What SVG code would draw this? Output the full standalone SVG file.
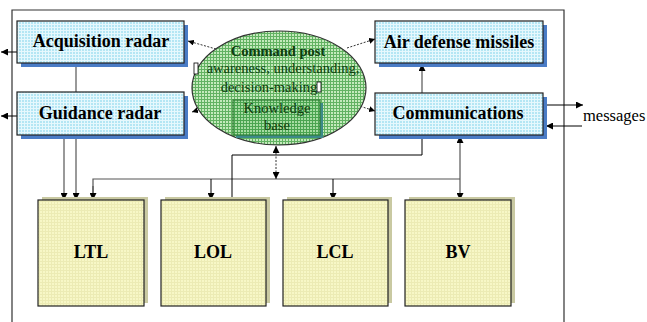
<svg xmlns="http://www.w3.org/2000/svg" width="647" height="322" viewBox="0 0 647 322">
<style>
.lbl{font-family:"Liberation Serif","Times New Roman",Times,"DejaVu Serif",serif;font-weight:bold;font-size:18px;fill:#000;text-anchor:middle}
.cp{font-family:"Liberation Serif","Times New Roman",Times,"DejaVu Serif",serif;font-size:14.5px;fill:#0f3d0f;text-anchor:middle}
.msg{font-family:"Liberation Serif","Times New Roman",Times,"DejaVu Serif",serif;font-size:16.5px;fill:#000}
.ln{stroke:#555;stroke-width:1.2;fill:none}
.lk{stroke:#000;stroke-width:1;fill:none}
.dash{stroke:#333;stroke-width:1;stroke-dasharray:2,1.5;fill:none}
.cyan{fill:url(#cyanPat);stroke:#222;stroke-width:1.2}
.yel{fill:url(#yelPat);stroke:#222;stroke-width:1.2}
.bsh{fill:#4a7cc6}
.ysh{fill:#c9c9a2}
</style>
<defs>
<pattern id="cyanPat" width="3" height="3" patternUnits="userSpaceOnUse">
<rect width="3" height="3" fill="#b4e6f4"/>
<path d="M0 0.5H3M0.5 0V3" stroke="#e6f8fd" stroke-width="1"/>
</pattern>
<pattern id="greenPat" width="3" height="3" patternUnits="userSpaceOnUse">
<rect width="3" height="3" fill="#c4eabc"/>
<path d="M0 0.5H3M0.5 0V3" stroke="#62b262" stroke-width="1"/>
</pattern>
<pattern id="kbPat" width="3" height="3" patternUnits="userSpaceOnUse">
<rect width="3" height="3" fill="#a6dca2"/>
<path d="M0 0.5H3M0.5 0V3" stroke="#4aa450" stroke-width="1"/>
</pattern>
<pattern id="yelPat" width="3" height="3" patternUnits="userSpaceOnUse">
<rect width="3" height="3" fill="#f7f7c6"/>
<path d="M0 0.5H3M0.5 0V3" stroke="#ecebb4" stroke-width="1"/>
</pattern>
<marker id="ah" viewBox="0 0 10 10" refX="10" refY="5" markerWidth="7" markerHeight="7" orient="auto-start-reverse" markerUnits="userSpaceOnUse">
<path d="M0 0L10 5L0 10Z" fill="#000"/>
</marker>
<marker id="ahs" viewBox="0 0 10 10" refX="10" refY="5" markerWidth="6" markerHeight="6" orient="auto-start-reverse" markerUnits="userSpaceOnUse">
<path d="M0 0L10 5L0 10Z" fill="#000"/>
</marker>
</defs>
<rect width="647" height="322" fill="#fff"/>
<path d="M12 322V10H564V322" stroke="#333" stroke-width="1.2" fill="none"/>

<g id="connectors">
<line class="ln" x1="76" y1="63" x2="76" y2="92"/>
<line class="lk" x1="17" y1="52" x2="1" y2="52" marker-end="url(#ah)"/>
<line class="lk" x1="17" y1="116" x2="1" y2="116" marker-end="url(#ah)"/>
<line class="ln" x1="422" y1="93" x2="422" y2="64" marker-end="url(#ah)"/>
<line class="lk" x1="545" y1="105" x2="583" y2="105" marker-end="url(#ah)"/>
<line class="lk" x1="582" y1="126" x2="546" y2="126" marker-end="url(#ah)"/>
<line class="dash" x1="216" y1="49" x2="188" y2="41" marker-end="url(#ahs)"/>
<line class="dash" x1="214" y1="105" x2="192" y2="112" marker-end="url(#ahs)"/>
<line class="dash" x1="347" y1="48" x2="375" y2="39" marker-end="url(#ahs)"/>
<line class="dash" x1="347" y1="102" x2="375" y2="111" marker-end="url(#ahs)"/>
<line class="ln" x1="64" y1="135" x2="64" y2="200" marker-end="url(#ah)"/>
<line class="ln" x1="76" y1="135" x2="76" y2="200" marker-end="url(#ah)"/>
<path class="ln" d="M93 200V179H460"/>
<line class="ln" x1="93" y1="186" x2="93" y2="200" marker-end="url(#ah)"/>
<line class="lk" x1="211" y1="179" x2="211" y2="200" marker-end="url(#ah)"/>
<line class="lk" x1="333" y1="179" x2="333" y2="200" marker-end="url(#ah)"/>
<line class="ln" x1="460" y1="136" x2="460" y2="200" marker-start="url(#ah)" marker-end="url(#ah)"/>
<path class="lk" d="M232 200V155H422V135"/>
<line class="dash" x1="276" y1="146" x2="276" y2="179" marker-start="url(#ah)" marker-end="url(#ah)"/>
</g>

<g id="acquisition-radar">
<rect class="bsh" x="21" y="25" width="167" height="42"/>
<rect class="cyan" x="17" y="21" width="167" height="42"/>
<text class="lbl" x="101" y="47">Acquisition radar</text>
</g>
<g id="guidance-radar">
<rect class="bsh" x="21" y="96" width="167" height="43"/>
<rect class="cyan" x="17" y="92" width="167" height="43"/>
<text class="lbl" x="100" y="119">Guidance radar</text>
</g>
<g id="air-defense-missiles">
<rect class="bsh" x="379" y="25" width="168" height="42"/>
<rect class="cyan" x="375" y="21" width="168" height="42"/>
<text class="lbl" x="459" y="48">Air defense missiles</text>
</g>
<g id="communications">
<rect class="bsh" x="379" y="97" width="168" height="42"/>
<rect class="cyan" x="375" y="93" width="168" height="42"/>
<text class="lbl" x="458" y="119">Communications</text>
</g>
<g id="messages">
<text class="msg" x="583" y="121">messages</text>
</g>

<g id="command-post">
<ellipse cx="279" cy="88" rx="87" ry="57" fill="url(#greenPat)" stroke="#333" stroke-width="1.2"/>
<text class="cp" x="278" y="56" font-weight="bold" font-size="15.5">Command post</text>
<rect x="194" y="63" width="4" height="11" fill="#fff" stroke="#000" stroke-width="0.8"/>
<text class="cp" x="283" y="73">awareness, understanding,</text>
<text class="cp" x="269" y="92">decision-making</text>
<rect x="317" y="82" width="4" height="10" fill="#fff" stroke="#000" stroke-width="0.8"/>
</g>
<g id="knowledge-base">
<rect x="236" y="103" width="87" height="35" fill="#3d8a8a"/>
<rect x="233" y="100" width="87" height="35" fill="url(#kbPat)" stroke="#2e7d32" stroke-width="1.2"/>
<text class="cp" x="277" y="113" font-size="15">Knowledge</text>
<text class="cp" x="277" y="130" font-size="15">base</text>
</g>

<g id="LTL">
<rect class="ysh" x="42" y="197" width="106" height="106"/>
<rect class="yel" x="38" y="200" width="106" height="106"/>
<text class="lbl" x="91" y="258">LTL</text>
</g>
<g id="LOL">
<rect class="ysh" x="165" y="197" width="105" height="106"/>
<rect class="yel" x="161" y="200" width="105" height="106"/>
<text class="lbl" x="213" y="258">LOL</text>
</g>
<g id="LCL">
<rect class="ysh" x="287" y="197" width="105" height="106"/>
<rect class="yel" x="283" y="200" width="105" height="106"/>
<text class="lbl" x="335" y="258">LCL</text>
</g>
<g id="BV">
<rect class="ysh" x="409" y="197" width="106" height="106"/>
<rect class="yel" x="405" y="200" width="106" height="106"/>
<text class="lbl" x="458" y="258">BV</text>
</g>
</svg>
